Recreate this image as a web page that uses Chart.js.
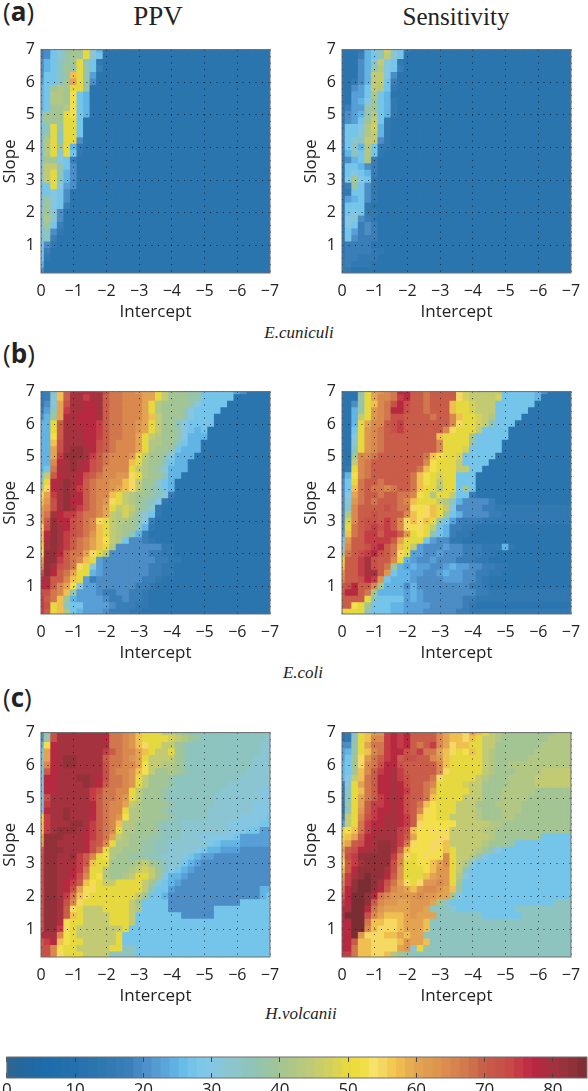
<!DOCTYPE html>
<html>
<head>
<meta charset="utf-8">
<script src="https://cdn.jsdelivr.net/npm/chart.js@4"></script>
<style>
html, body { margin: 0; padding: 0; background: #fff; width: 588px; height: 1091px; overflow: hidden; }
canvas { position: absolute; }
.txt { position: absolute; white-space: nowrap; color: #222; line-height: 1; }
.tag { font-family: "Open Sans", sans-serif; font-size: 26px; left: 3px; }
.tag b { font-weight: 700; }
.head { font-family: "Liberation Serif", serif; font-size: 25px; transform: translateX(-50%); }
.org { font-family: "Liberation Serif", serif; font-style: italic; font-size: 17px; transform: translateX(-50%); }
</style>
</head>
<body>
<div class="txt tag" style="top:-2px"><span>(</span><b>a</b><span>)</span></div>
<div class="txt tag" style="top:340px"><span>(</span><b>b</b><span>)</span></div>
<div class="txt tag" style="top:684px"><span>(</span><b>c</b><span>)</span></div>
<div class="txt head" style="left:158px;top:3px;font-size:27px">PPV</div>
<div class="txt head" style="left:456px;top:4px">Sensitivity</div>
<div class="txt org" style="left:299px;top:324px">E.cuniculi</div>
<div class="txt org" style="left:303px;top:664px">E.coli</div>
<div class="txt org" style="left:301px;top:1005px">H.volcanii</div>

<script>
// one char per cell, base 36, times 2.5 gives the percent value. a short row repeats its last char
const ecuniculiPPV = [
  '78bdfggkda5','78bdfggkdb5','8abefgkeb65','8abegfkfb75','8bbefnkf95','9bbegokf85','abghgkkf5','abhhglba5','abhhglba5',
  'abgghlba5','bgggklba5','bgggkkb5','bekfkkb5','bfkekkb5','bhkekk85','bhkgka65','bhkdkb65','bggcb75','ciifb85','dikea85',
  'cikea85','bbkc985','bbcb85','bfcb85','bgcb75','cgd85','bhd85','bgb75','be865','be75','b865','b75','b65','a5','85'
];
const ecuniculiSens = [
  '5556acejdb65','5557abeidb5','5558adicb65','5558afhcb75','5558aiic85','5568aiib75','5589bihb65','5599bhba5','559acgba65',
  '5799fgba65','589afhba65','589bgib65','6bbchja65','7bbdhia65','7bdeii865','7beahb665','6aebhb65','68abh75','5bba875',
  '5bcba75','5cgcb65','57fb865','56bb865','59ab865','5bbb65','5bcb665','5cd8765','5cb7875','5b97875','5b87775','577775',
  '57777665','67766655','6766655','66555'
];
const ecoliPPV = [
  '67enswwvvwtrrqqpookigggffbbbbb985','67dnswwuwwsrrqqqookigggffbbbbb5','68dotwwvvwsrrqqqokhggggfcbbbb5',
  '79eouwwvvwsrrqqqokhgggfcbbbb5','8agovwvvvwsrrqqqonigggfcbbb5','aakswwvvvusrrqqpokiggecbbbb5','aakswwwvvusrrqqpokiggfcbab5',
  'aalswwwvvusrrqqokihggfcaaa5','aantwwwvvtsrqqqokhhggebaa5','aaotwxxwvtsrqqqokhggfbaaa5','aaouxxxwusrqqqpkiggfcaaa5',
  'aaqvwxwvtsrqqqnkhggebaa5','abrwwxwvtsqqqqkihgfdaaa5','bisvwwvtsrqqppmkhggeaa5','ekvwxwvsrqqppnmiggdba5','hmvwxwusrqqponmigfeba5',
  'mouwxwvsrqqnkihggfed75','nptwxvvsrqpmkihgfec65','oqtwxwusrqokijigfd65','prwvuusrrqoihjhfdb65','osxvvtsrqmkihhgfc75',
  'mtxwvtsrqnkihggea65','nvxwutsrpnkihgea75','nwxwusrqonlihb88765','kwxwusrqonkh8888888665','mxxvsrromkh88888877665',
  'oxxusrqnk98888888877665','qxwtsrmkd98888888776655','txvsrokka98888888776655','vwssqnk97888888877655','vvsqolc9988888877655',
  'ttrqnf9998778877655','usrnga9999877877655','utknebb9999877766555','usknhba999877766555'
];
const ecoliSens = [
  '555fkopqrvvssrssssmjiiiiibbbbba85','555fkoqqruvssrssssmjiiiijbbbbba5','558fknqrtvtssrsssnkkjiiibbbbbb5','55afkpqrvvtssrsssnkkjiiibbbbb5',
  '55aikpqrttssssrssqnkkjihbbbb5','55akoqqstusssssssqmkkjiebbb5','55bkpqrstussssssqmkkkibbbb5','55ckpqrssssssssnkkkkgbbbbb5',
  '55dkpqrssssssssqkkkkfbbbb5','55ekpqrssssssssqkkkjbbbbb5','55gqqrsssssssrnlkkjbbbbb5','55iqrssssssssqlkkkibbbb5','56kqrsssssssrnlkkkiibb5',
  '7alqrssssssrnlkjkkbbb5','8bkrssrssssrnlkikkbbb5','8bnrsrrqrssrnkkhkkbgb5','8corssrssrrqlkhkkibb75','8dprsrsssrqnkkkihea888875',
  '8eqsssstsrrmlmnkic8888776','8hqsstssssqnlmnkgba88887766','8jqsttsusqmnmnkfb977776','8krstutusqmlmkiba77665','9nrsuusuuspklkeba76655',
  'bpssuuuusokkkb9886655','dqsstuvsrnki9888988777666a65','grstuvtsrmk99889888777665','kssuwtssqka98898887776655',
  'nssuwtsrga9a99889a9988776655','pssuwwspbaa99889a9988776655','qsstvupbaaa98888999887655','stvssqgaaa8a8888888877655',
  'svvsrgaaaa9a988888888776','sssskebbbb9a9888888776','sslkgbbbaa9999888887655','kkkkebbbaa99988888776'
];
const hvolcaniiPPV = [
  '8ftwwwwvwwwrrqpnkkkiihgfeeeeeeeeeeed','8ftwwwwwwwvrrqpnkkkkjihgfeeeeeeeeeed','alvwwwwwwwwrrqpnmkkiigfeeeeeeeeeeedd','bovwwwwwwwusrqqonkiikgfeeeeeeeeeeedd',
  'bovwxxwwwwsrrqpokiiiigfeeeeeeeeeeddd','bqvwxxwwwwtrrqqoliihhgfeeeeeeeeeeddd','bsvwwwwwwwtrqqpnligghgfeeeeeeeeedddd','bvvwwwxxwvtrrqpkigggfeeeeeeeeeedddd',
  'bvvwwwwxwvsrrqpkigggfeeeeeeeedddddd','bvvwwwwwutrrqqkigggfeeeeeeeeddddddc','btwwwwwwusrrqpkigggfeeeeeeedddddddc','buwwwwwwvsrqqoihggggfeeeeeeddddddcc',
  'bvwwxwwwvsrqqkhhgggfeeeeeedddddddcc','kuwwxwwwvsrqplhhggggfeeeeedddddccccb','nuwwwxxwusrqnhhgggfeeedddddddcccccb','nuwxxxwvusrqkhhgggfeeedddddddcccbb9',
  'oxxxwwwvusroihgggffeeedddcccccb99999','oxxwwwwvtsqkhhggffeeddddddcbaaa99999','sxxxwwwvtrkhhgggffeeddddcbaa99988888','txxwwxusqklhggfffeedddcba99888888888',
  'txxwwwusnkkgggghigfeddba988888888888','txxwwvurkkhggghijigecba98','txxwwvtqklhgghikkigcaa98','txxwvusnlkiikkkkigdba98','txxwvtolmkkkkkkkiebb98888888888888a',
  'txxwurnmkkkkkkkigbba88888888888888ab','txxwtqmkkkkkkkigbbbb88888888888bbbbb','txxwsmkiiikkkkihbbbb8888888bbbbbbbbb','txxwsnkiiiikkkibbbbbbb88888bbbbbbbbb',
  'txxvlkkiiiikkkib','txxumkiiiiiiikb','vwwqlkiiiiiikb','suvnlkkiiiiikb','ttqlkkiiiiikkeeb','ttqmkkkiiiieeeeb'
];
const hvolcaniiSens = [
  '56eknppuvuvssssqonnmonkihggggggggh','56eknqquvuvssssqonnmnkiihgggggggh','88fkorruvuvsrsuqomnnkkiiggggggghh','9afknqruvvtsurronmklnkihgggggghh',
  '9bgmprsuvsttssqpnkkkkkihggggghhh','abgmqrtvvtsssssqnkkkkkihgghhhhh','abgnqsuvwusssssqmkkkkkihggghhhhi','acinrsvvwutsssrmkkkkkihggghhhhi',
  '7dkorsvvwvtssrqkkkkjiigggghhhhii','6eknrsvvwvussrokkkkkiiggghhhhhg','6ekorsuvwvtssrnkkkkiiiggghhhhg','5fkosuuvwvtsrnlkkkiiiggghhhhg',
  '5fkpsuvvwvtsqmlkkkiiihggghhhgg','7ikqtuvwwvusnllkkiiiihggghhggg','9ikruvvwwvusmllllliiiiihhgggggg','klnruvwwwutnllmlliiiiihhgggggg',
  'knosvwwwwusolllmmiiiiiihgggggggbbbbb','nostvwxxwurmllmmniiiiihgggfbbbbbbbbb','ostvwwxxwsnlllmlnkiiihgecbbbbbbbbbbb','ntuxxxxxuqmklmllqkiihfcbb',
  'msuwxxxxtqkkllnoqkihdbb','nsvxxxxwtpkkklnppkieb','puwxyxxvspkkknoppkhcb','quxyyxwtromkmppqpkgb','rvxyyxvsqponpqqponfbb','svyyxvrqppppqppoogcb',
  'uvyyxsqppoopppogdbbbbbbbbbbbbbbbbeee','vwyyvrpooooppoeeedbbbbbbbbbeeeeeeeee','vyyytqonnnopoooeeeeeeebbbbbbeeeeeeee','vvyyrnnmmnooone','vvyyqnmmmnooone',
  'vvypmmmnnonooe','vvsnnmmmmnpoone','vvrnnmmmmopdkfe','uurnnmmnhgfeeee'
];

const intercepts = [0,-0.2,-0.4,-0.6,-0.8,-1,-1.2,-1.4,-1.6,-1.8,-2,-2.2,-2.4,-2.6,-2.8,-3,-3.2,-3.4,-3.6,-3.8,-4,-4.2,-4.4,-4.6,-4.8,-5,-5.2,-5.4,-5.6,-5.8,-6,-6.2,-6.4,-6.6,-6.8,-7];
const slopes = [7,6.8,6.6,6.4,6.2,6,5.8,5.6,5.4,5.2,5,4.8,4.6,4.4,4.2,4,3.8,3.6,3.4,3.2,3,2.8,2.6,2.4,2.2,2,1.8,1.6,1.4,1.2,1,0.8,0.6,0.4,0.2];
const xTicks = [0,-1,-2,-3,-4,-5,-6,-7];
const yTicks = [1,2,3,4,5,6,7];
const barTicks = [0,10,20,30,40,50,60,70,80];
// colorbar steps, sampled along the bar
const barValues = [];
for (let i = 0; i < 64; i++) barValues.push((i + 0.5) * 85 / 64);

const stopValues = [0,3,6,10,15,18,20,23,26,28,30,33,36,40,44,47,50,52,54,56,58,60,64,68,70,74,76,78,80,83,85];
const stopColors = ['#2e6592','#22689f','#1d6dac','#2470ac','#3279b1','#3a7fb8','#4d8dc6','#59a3d9','#67bde9','#7ac7ec','#85c6e2','#8cc5cf','#8fc4b8','#a3c493','#bcc97c','#cfcf62','#e6d93f','#f0de3e','#f6e26e','#f3cf55','#eeb94e','#e2a452','#dc8f4e','#cf744d','#c95d4a','#c64a46','#c22f45','#b3273f','#a5333f','#8e3138','#7a2e33'];

function hexRgb(h) {
    return [1, 3, 5].map(i => parseInt(h.substr(i, 2), 16));
}

function colorOf(v) {
    let i = 0;
    while (i < stopValues.length - 2 && v > stopValues[i + 1]) i++;
    const t = Math.min(1, Math.max(0, (v - stopValues[i]) / (stopValues[i + 1] - stopValues[i])));
    const a = hexRgb(stopColors[i]), b = hexRgb(stopColors[i + 1]);
    return 'rgb(' + a.map((c, k) => Math.round(c + (b[k] - c) * t)).join(',') + ')';
}

const frame = {
    id: 'frame',
    afterDraw(chart) {
        const { ctx, chartArea: a } = chart;
        ctx.save();
        ctx.strokeStyle = '#6e6e6e';
        ctx.lineWidth = 1;
        ctx.strokeRect(a.left, a.top, a.right - a.left, a.bottom - a.top);
        ctx.restore();
    }
};

function makeCanvas(left, top, width, height) {
    const c = document.createElement('canvas');
    c.width = width;
    c.height = height;
    c.style.left = left + 'px';
    c.style.top = top + 'px';
    c.style.width = width + 'px';
    c.style.height = height + 'px';
    document.body.appendChild(c);
    return c;
}

const tickFont = { family: '"Open Sans", sans-serif', size: 16 };
const titleFont = { family: '"Open Sans", sans-serif', size: 17 };

function heatmap(rows, left, plotTop, plotBottom) {
    const cells = [], colors = [];
    slopes.forEach((s, r) => {
        const row = rows[r];
        intercepts.forEach((x, k) => {
            const ch = k < row.length ? row[k] : row[row.length - 1];
            const v = parseInt(ch, 36) * 2.5;
            cells.push({ x: x, y: [s - 0.1, s + 0.1] });
            colors.push(colorOf(v));
        });
    });
    const canvas = makeCanvas(left, plotTop - 10, 290, plotBottom - plotTop + 59);
    new Chart(canvas, {
        type: 'bar',
        data: { datasets: [{ data: cells, backgroundColor: colors, borderWidth: 0, inflateAmount: 0.5, barPercentage: 1, categoryPercentage: 1 }] },
        options: {
            responsive: false,
            animation: false,
            events: [],
            layout: { padding: { top: 10, right: 20, left: 0, bottom: 0 } },
            plugins: { legend: { display: false }, tooltip: { enabled: false } },
            scales: {
                x: {
                    type: 'linear', reverse: true, min: -7, max: 0, offset: false,
                    afterBuildTicks: s => { s.ticks = xTicks.map(v => ({ value: v })); },
                    afterFit: s => { s.height = 49; },
                    ticks: { color: '#222', font: tickFont, padding: 9, maxRotation: 0, autoSkip: false, callback: v => String(v).replace('-', '\u2212') },
                    grid: { z: 1, offset: false, color: 'rgba(10,10,10,0.75)', lineWidth: 1, drawTicks: false },
                    border: { display: false, dash: [1, 5.5] },
                    title: { display: true, text: 'Intercept', color: '#222', font: titleFont, padding: { top: 1, bottom: 0 } }
                },
                y: {
                    min: 0.15, max: 7,
                    afterBuildTicks: s => { s.ticks = yTicks.map(v => ({ value: v })); },
                    afterFit: s => { s.width = 41; },
                    ticks: { color: '#222', font: tickFont, padding: 6 },
                    grid: { z: 1, color: 'rgba(10,10,10,0.75)', lineWidth: 1, drawTicks: false },
                    border: { display: false, dash: [1, 5.5] },
                    title: { display: true, text: 'Slope', color: '#222', font: titleFont, padding: { top: 0, bottom: 0 } }
                }
            }
        },
        plugins: [frame]
    });
}

heatmap(ecuniculiPPV, 0, 44, 273);
heatmap(ecuniculiSens, 301, 44, 273);
heatmap(ecoliPPV, 0, 386, 614);
heatmap(ecoliSens, 301, 386, 614);
heatmap(hvolcaniiPPV, 0, 727, 957);
heatmap(hvolcaniiSens, 301, 727, 957);

// colorbar along the bottom
new Chart(makeCanvas(0, 1050, 588, 41), {
    type: 'bar',
    data: { datasets: [{ data: barValues.map(v => ({ x: v, y: [0, 1] })), backgroundColor: barValues.map(colorOf), borderWidth: 0, inflateAmount: 0.5, barPercentage: 1, categoryPercentage: 1 }] },
    options: {
        responsive: false,
        animation: false,
        events: [],
        layout: { padding: { top: 7, left: 4.5, right: 1, bottom: 0 } },
        plugins: { legend: { display: false }, tooltip: { enabled: false } },
        scales: {
            x: {
                type: 'linear', min: 0, max: 85, offset: false,
                afterBuildTicks: s => { s.ticks = barTicks.map(v => ({ value: v })); },
                afterFit: s => { s.height = 13; },
                ticks: { color: '#222', font: titleFont, padding: 2, maxRotation: 0, autoSkip: false },
                grid: { z: 1, offset: false, color: '#444', drawTicks: false },
                border: { display: false, dash: [5, 11, 5] }
            },
            y: { min: 0, max: 1, display: false }
        }
    },
    plugins: [frame]
});
</script>
</body>
</html>
